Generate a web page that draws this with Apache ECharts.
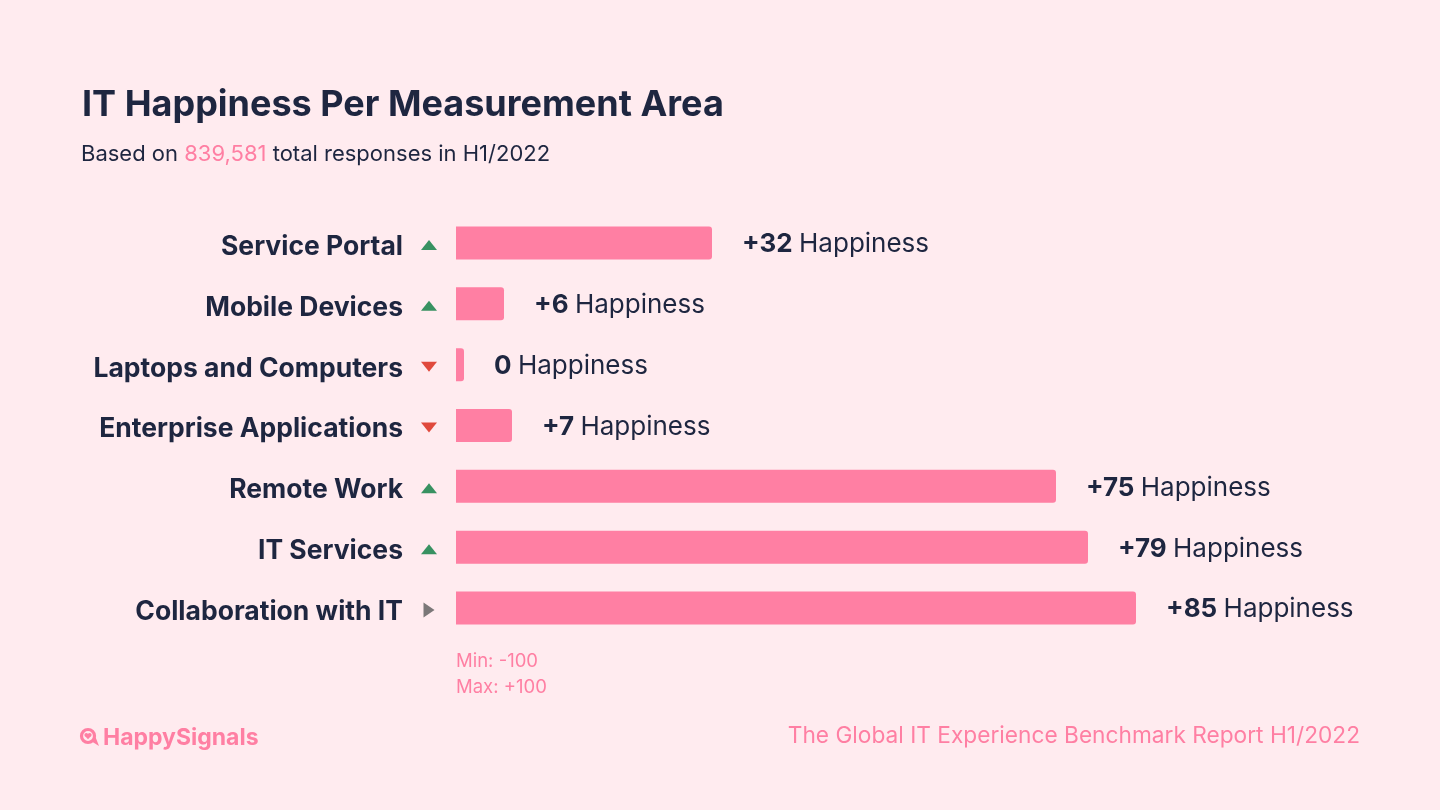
<!DOCTYPE html>
<html>
<head>
    <meta charset="utf-8">
    <title>IT Happiness Per Measurement Area</title>
    <script src="https://cdn.jsdelivr.net/npm/echarts@6.0.0/dist/echarts.min.js"></script>
    <style>
        html, body {
            margin: 0;
            padding: 0;
            background-color: #ffebef;
        }

        #chart {
            width: 1440px;
            height: 810px;
        }
    </style>
</head>
<body>
<div id="chart"></div>

<script>
    // 数据
    var categories = ['Service Portal', 'Mobile Devices', 'Laptops and Computers', 'Enterprise Applications',
        'Remote Work', 'IT Services', 'Collaboration with IT'];
    var happiness = [32, 6, 0, 7, 75, 79, 85];
    // 趋势: up / down / flat
    var trends = ['up', 'up', 'down', 'down', 'up', 'up', 'flat'];
    var totalResponses = '839,581';
    var scaleMin = '-100';
    var scaleMax = '+100';

    var pink = '#ff7fa3';
    var navy = '#1e2640';
    var font = 'Inter';

    var trendStyle = {
        up: {color: '#067a3d', rotate: 0, size: [16, 10]},
        down: {color: '#d8200f', rotate: 180, size: [16, 10]},
        flat: {color: '#5a5a5a', rotate: -90, size: [15, 11]}
    };

    var chart = echarts.init(document.getElementById('chart'));

    var option = {
        backgroundColor: '#ffebef',
        textStyle: {fontFamily: font},
        title: {
            text: 'IT Happiness Per Measurement Area',
            left: 77,
            top: 82,
            textStyle: {fontFamily: font, fontSize: 36, fontWeight: 'bold', color: navy}
        },
        grid: {
            left: 456,
            width: 800,
            top: 212.5,
            height: 426
        },
        xAxis: {
            type: 'value',
            min: 0,
            max: 100,
            show: false
        },
        yAxis: {
            type: 'category',
            data: categories,
            inverse: true,
            axisLine: {show: false},
            axisTick: {show: false},
            splitLine: {show: false},
            axisLabel: {
                margin: 53,
                formatter: function (v) {
                    return '{a|' + v + '}';
                },
                rich: {
                    a: {
                        fontFamily: font,
                        fontSize: 26.5,
                        fontWeight: 'bold',
                        color: navy,
                        padding: [8, 0, 0, 0]
                    }
                }
            }
        },
        series: [
            {
                type: 'bar',
                data: happiness,
                barWidth: 33,
                barMinHeight: 8,
                itemStyle: {color: pink, borderRadius: [0, 3, 3, 0]},
                label: {
                    show: true,
                    position: 'right',
                    distance: 30,
                    formatter: function (p) {
                        var v = p.value > 0 ? '+' + p.value : '' + p.value;
                        return '{b|' + v + '} {r|Happiness}';
                    },
                    rich: {
                        b: {fontFamily: font, fontSize: 26, fontWeight: 'bold', color: navy, padding: [3, 0, 0, 0]},
                        r: {fontFamily: font, fontSize: 26, color: navy, padding: [3, 0, 0, 3]}
                    }
                },
                silent: true
            },
            {
                // 趋势三角形
                type: 'scatter',
                data: trends.map(function (t, i) {
                    var s = trendStyle[t];
                    return {
                        value: [0, i],
                        symbolRotate: s.rotate,
                        symbolSize: s.size,
                        itemStyle: {color: s.color}
                    };
                }),
                symbol: 'triangle',
                symbolOffset: [-27, 2],
                silent: true,
                z: 3
            }
        ],
        graphic: [
            {
                type: 'text',
                left: 81,
                top: 143,
                style: {
                    text: '{n|Based on }{p|' + totalResponses + '}{n| total responses in H1/2022}',
                    rich: {
                        n: {fontFamily: font, fontSize: 22, fill: navy},
                        p: {fontFamily: font, fontSize: 22, fill: pink}
                    }
                }
            },
            {
                type: 'text',
                left: 456,
                top: 652,
                style: {text: 'Min: ' + scaleMin, fontFamily: font, fontSize: 18.5, fill: pink}
            },
            {
                type: 'text',
                left: 456,
                top: 678,
                style: {text: 'Max: ' + scaleMax, fontFamily: font, fontSize: 18.5, fill: pink}
            },
            // logo 图标
            {
                type: 'circle',
                shape: {cx: 88, cy: 736, r: 6.5},
                style: {fill: 'none', stroke: pink, lineWidth: 3.2}
            },
            {
                type: 'polygon',
                shape: {points: [[91, 741], [99, 746], [95.5, 737]]},
                style: {fill: pink}
            },
            {
                type: 'circle',
                shape: {cx: 86.3, cy: 734.8, r: 1.9},
                style: {fill: pink}
            },
            {
                type: 'circle',
                shape: {cx: 89.7, cy: 734.8, r: 1.9},
                style: {fill: pink}
            },
            {
                type: 'polygon',
                shape: {points: [[84.5, 735.4], [91.5, 735.4], [88, 739.2]]},
                style: {fill: pink}
            },
            {
                type: 'text',
                left: 103,
                top: 727,
                style: {text: 'HappySignals', fontFamily: font, fontSize: 23, fontWeight: 'bold', fill: pink}
            },
            {
                type: 'text',
                right: 80,
                top: 725,
                style: {
                    text: 'The Global IT Experience Benchmark Report H1/2022',
                    fontFamily: font,
                    fontSize: 22.7,
                    fill: pink
                }
            }
        ]
    };

    chart.setOption(option);
</script>
</body>
</html>
